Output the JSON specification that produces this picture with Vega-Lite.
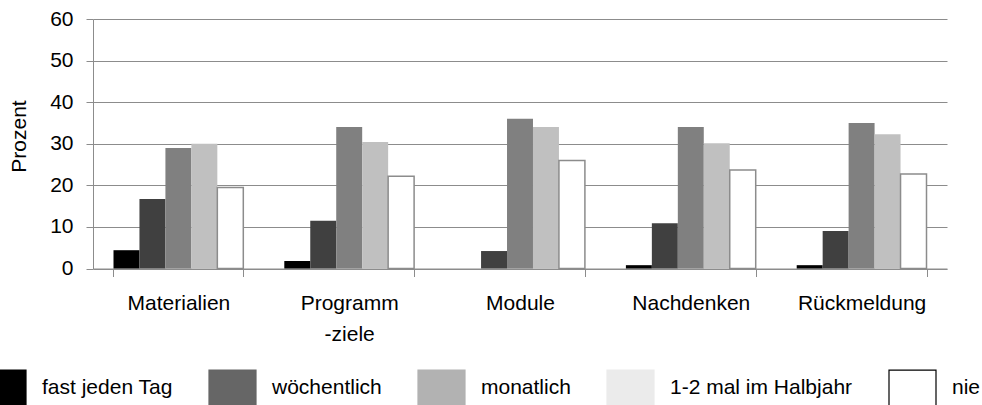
{
  "$schema": "https://vega.github.io/schema/vega-lite/v6.json",
  "autosize": "none",
  "width": 854,
  "height": 249.5,
  "padding": {"left": 93, "top": 19, "right": 35, "bottom": 136.5},
  "background": "white",
  "config": {
    "font": "Liberation Sans",
    "view": {"stroke": null},
    "axis": {"labelColor": "#000000", "titleColor": "#000000", "labelFont": "Liberation Sans", "titleFont": "Liberation Sans"}
  },
  "data": {
    "values": [
      {"Kategorie": "Materialien", "Serie": "fast jeden Tag", "Prozent": 4.4},
      {"Kategorie": "Materialien", "Serie": "wöchentlich", "Prozent": 16.7},
      {"Kategorie": "Materialien", "Serie": "monatlich", "Prozent": 29.0},
      {"Kategorie": "Materialien", "Serie": "1-2 mal im Halbjahr", "Prozent": 30.0},
      {"Kategorie": "Materialien", "Serie": "nie", "Prozent": 19.5},
      {"Kategorie": "Programm -ziele", "Serie": "fast jeden Tag", "Prozent": 1.8},
      {"Kategorie": "Programm -ziele", "Serie": "wöchentlich", "Prozent": 11.5},
      {"Kategorie": "Programm -ziele", "Serie": "monatlich", "Prozent": 34.0},
      {"Kategorie": "Programm -ziele", "Serie": "1-2 mal im Halbjahr", "Prozent": 30.4},
      {"Kategorie": "Programm -ziele", "Serie": "nie", "Prozent": 22.2},
      {"Kategorie": "Module", "Serie": "fast jeden Tag", "Prozent": 0},
      {"Kategorie": "Module", "Serie": "wöchentlich", "Prozent": 4.2},
      {"Kategorie": "Module", "Serie": "monatlich", "Prozent": 36.0},
      {"Kategorie": "Module", "Serie": "1-2 mal im Halbjahr", "Prozent": 34.0},
      {"Kategorie": "Module", "Serie": "nie", "Prozent": 26.0},
      {"Kategorie": "Nachdenken", "Serie": "fast jeden Tag", "Prozent": 0.8},
      {"Kategorie": "Nachdenken", "Serie": "wöchentlich", "Prozent": 10.9},
      {"Kategorie": "Nachdenken", "Serie": "monatlich", "Prozent": 34.0},
      {"Kategorie": "Nachdenken", "Serie": "1-2 mal im Halbjahr", "Prozent": 30.1},
      {"Kategorie": "Nachdenken", "Serie": "nie", "Prozent": 23.7},
      {"Kategorie": "Rückmeldung", "Serie": "fast jeden Tag", "Prozent": 0.8},
      {"Kategorie": "Rückmeldung", "Serie": "wöchentlich", "Prozent": 9.0},
      {"Kategorie": "Rückmeldung", "Serie": "monatlich", "Prozent": 35.0},
      {"Kategorie": "Rückmeldung", "Serie": "1-2 mal im Halbjahr", "Prozent": 32.3},
      {"Kategorie": "Rückmeldung", "Serie": "nie", "Prozent": 22.7}
    ]
  },
  "encoding": {
    "x": {
      "field": "Kategorie",
      "type": "nominal",
      "sort": ["Materialien", "Programm -ziele", "Module", "Nachdenken", "Rückmeldung"],
      "scale": {"paddingInner": 0.24, "paddingOuter": 0.12},
      "axis": {
        "title": null,
        "labelAngle": 0,
        "labelFontSize": 21,
        "labelPadding": 16,
        "labelLineHeight": 31,
        "labelBaseline": "top",
        "labelExpr": "split(datum.label, ' ')",
        "tickBand": "extent",
        "tickSize": 8,
        "tickColor": "#8c8c8c",
        "domainColor": "#8c8c8c",
        "grid": false
      }
    },
    "xOffset": {
      "field": "Serie",
      "type": "nominal",
      "sort": ["fast jeden Tag", "wöchentlich", "monatlich", "1-2 mal im Halbjahr", "nie"],
      "scale": {"paddingInner": 0, "paddingOuter": 0}
    },
    "y": {
      "field": "Prozent",
      "type": "quantitative",
      "scale": {"domain": [0, 60], "nice": false},
      "axis": {
        "title": "Prozent",
        "titleFontSize": 21,
        "titleFontWeight": "normal",
        "titlePadding": 20,
        "titleY": 117,
        "values": [0, 10, 20, 30, 40, 50, 60],
        "labelFontSize": 21,
        "labelPadding": 13,
        "tickSize": 7,
        "tickColor": "#8c8c8c",
        "domainColor": "#8c8c8c",
        "gridColor": "#8c8c8c",
        "gridOpacity": 1,
        "grid": true
      }
    }
  },
  "layer": [
    {
      "mark": {"type": "bar", "strokeWidth": 1.5},
      "encoding": {
        "color": {
          "field": "Serie",
          "type": "nominal",
          "scale": {
            "domain": ["fast jeden Tag", "wöchentlich", "monatlich", "1-2 mal im Halbjahr", "nie"],
            "range": ["#000000", "#404040", "#808080", "#c0c0c0", "#ffffff"]
          },
          "legend": null
        },
        "stroke": {
          "condition": {"test": "datum.Serie === 'nie'", "value": "#8c8c8c"},
          "value": "transparent"
        }
      }
    },
    {
      "transform": [{"filter": "datum.Prozent < 0"}],
      "mark": {"type": "bar", "strokeWidth": 1.2},
      "encoding": {
        "color": {
          "field": "Serie",
          "type": "nominal",
          "scale": {
            "domain": ["fast jeden Tag", "wöchentlich", "monatlich", "1-2 mal im Halbjahr", "nie"],
            "range": ["#000000", "#666666", "#b2b2b2", "#ebebeb", "#ffffff"]
          },
          "legend": {
            "title": null,
            "orient": "none",
            "legendX": -115,
            "legendY": 344.5,
            "direction": "horizontal",
            "padding": 0,
            "symbolType": "M-1,-0.766H1V0.766H-1Z",
            "symbolSize": 2209,
            "symbolStrokeWidth": 1.2,
            "symbolOpacity": 1,
            "labelFontSize": 21,
            "labelColor": "#000000",
            "labelFont": "Liberation Sans",
            "labelOffset": 15,
            "columnPadding": 33,
            "labelLimit": 400
          }
        },
        "stroke": {
          "field": "Serie",
          "type": "nominal",
          "scale": {
            "domain": ["fast jeden Tag", "wöchentlich", "monatlich", "1-2 mal im Halbjahr", "nie"],
            "range": ["#000000", "#666666", "#b2b2b2", "#ebebeb", "#000000"]
          },
          "legend": {
            "title": null,
            "orient": "none",
            "legendX": -115,
            "legendY": 344.5,
            "direction": "horizontal",
            "padding": 0,
            "symbolType": "M-1,-0.766H1V0.766H-1Z",
            "symbolSize": 2209,
            "symbolStrokeWidth": 1.2,
            "symbolOpacity": 1,
            "labelFontSize": 21,
            "labelColor": "#000000",
            "labelFont": "Liberation Sans",
            "labelOffset": 15,
            "columnPadding": 33,
            "labelLimit": 400
          }
        }
      }
    }
  ],
  "resolve": {"scale": {"color": "independent", "stroke": "independent"}, "legend": {"color": "independent", "stroke": "independent"}}
}
